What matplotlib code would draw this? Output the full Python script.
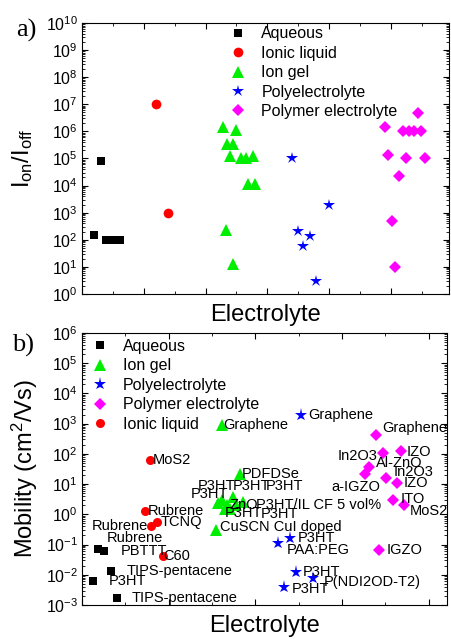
import numpy as np
import matplotlib
matplotlib.use("Agg")
import matplotlib.pyplot as plt
from matplotlib.ticker import LogLocator, MultipleLocator, NullFormatter

plt.rcParams['font.family'] = ['Liberation Sans', 'DejaVu Sans']
plt.rcParams['mathtext.fontset'] = 'custom'
plt.rcParams['mathtext.rm'] = 'Liberation Sans'
plt.rcParams['mathtext.it'] = 'Liberation Sans:italic'
plt.rcParams['mathtext.bf'] = 'Liberation Sans:bold'

# ---- a) on/off ratio ----
a_aq_x = [0.30, 0.20, 0.39, 0.47, 0.54, 0.62]
a_aq_y = [8e4, 150, 100, 100, 100, 100]
a_il_x = [1.19, 1.40]
a_il_y = [1e7, 1e3]
a_gel_x = [2.29, 2.49, 2.34, 2.45, 2.39, 2.57, 2.66, 2.76, 2.69, 2.80, 2.33, 2.44]
a_gel_y = [1.4e6, 1.1e6, 3.4e5, 3.4e5, 1.2e5, 1e5, 1e5, 1.2e5, 1.1e4, 1.1e4, 230, 12.6]
a_pe_x = [3.40, 4.00, 3.49, 3.69, 3.58, 3.79]
a_pe_y = [1e5, 2e3, 210, 140, 60, 3]
a_pol_x = [4.90, 5.44, 5.19, 5.29, 5.38, 5.49, 4.95, 5.25, 5.55, 5.13, 5.02, 5.07]
a_pol_y = [1.4e6, 4.9e6, 1e6, 1e6, 1e6, 1e6, 1.35e5, 1e5, 1e5, 2.3e4, 500, 10]

# ---- b) mobility ----
b_aq_x = [0.19, 0.25, 0.33, 0.13, 0.40]
b_aq_y = [0.069, 0.062, 0.013, 0.0062, 0.0017]
b_aq_names = ["Rubrene", "PBTTT", "TIPS-pentacene", "P3HT", "TIPS-pentacene"]

b_il_x = [0.78, 0.73, 0.80, 0.87, 0.93]
b_il_y = [62, 1.28, 0.41, 0.56, 0.042]
b_il_names = ["MoS2", "Rubrene", "Rubrene", "TCNQ", "C60"]

b_gel_x = [1.61, 1.82, 1.62, 1.746, 1.86, 1.57, 1.67, 1.78, 1.65, 1.71, 1.55]
b_gel_y = [890, 21, 2.95, 3.8, 2.6, 2.3, 2.0, 2.0, 1.5, 1.55, 0.30]
b_gel_names = ["Graphene", "PDFDSe", "P3HT", "P3HT", "P3HT", "P3HT", "ZnO",
               "P3HT/IL CF 5 vol%", "P3HT", "P3HT", "CuSCN CuI doped"]

b_pe_x = [2.53, 2.264, 2.40, 2.465, 2.66, 2.33]
b_pe_y = [1900, 0.114, 0.17, 0.0126, 0.0081, 0.0040]
b_pe_names = ["Graphene", "PAA:PEG", "P3HT", "P3HT", "P(NDI2OD-T2)", "P3HT"]

b_pol_x = [3.39, 3.475, 3.676, 3.31, 3.264, 3.506, 3.63, 3.59, 3.71, 3.43]
b_pol_y = [420, 104, 124, 37, 21.4, 16.2, 10.5, 2.95, 2.0, 0.065]
b_pol_names = ["Graphene", "In2O3", "IZO", "Al-ZnO", "a-IGZO", "In2O3", "IZO",
               "ITO", "MoS2", "IGZO"]

# label placement (pixels from the point, alignment)
b_aq_off = [(8, 11, 'left'), (17, 0, 'left'), (16, 0, 'left'), (15, 0, 'left'), (15, 0, 'left')]
b_il_off = [(3, 0, 'left'), (2, 0, 'left'), (-3, 0, 'right'), (3, 0, 'left'), (1, 0, 'left')]
b_gel_off = [(2, 0, 'left'), (2, 0, 'left'), (-25, 14, 'left'), (-1, 11, 'left'),
             (23, 16, 'left'), (-27, 9, 'left'), (3, 0, 'left'), (20, 0, 'left'),
             (0, -4, 'left'), (31, -5, 'left'), (4, 3, 'left')]
b_pe_off = [(7, 0, 'left'), (8, -7, 'left'), (8, 0, 'left'), (7, 0, 'left'),
            (11, -4, 'left'), (8, -2, 'left')]
b_pol_off = [(6, 7, 'left'), (-6, -3, 'right'), (6, -1, 'left'), (7, 4, 'left'),
             (15, -13, 'right'), (8, 6, 'left'), (7, 0, 'left'), (7, 1, 'left'),
             (6, -6, 'left'), (7, 0, 'left')]

GREEN = '#00ee00'


def style_axis(ax, xmax, ylo, yhi):
    ax.set_yscale('log')
    ax.set_xlim(0, xmax)
    ax.set_ylim(ylo, yhi)
    ax.xaxis.set_major_locator(MultipleLocator(1))
    ax.xaxis.set_minor_locator(MultipleLocator(0.5))
    ax.xaxis.set_major_formatter(NullFormatter())
    ax.yaxis.set_major_locator(LogLocator(base=10, numticks=20))
    ax.yaxis.set_minor_locator(LogLocator(base=10, subs=np.arange(2, 10), numticks=20))
    ax.yaxis.set_minor_formatter(NullFormatter())
    ax.tick_params(which='both', direction='in', top=True, right=True,
                   labelsize=11.5, pad=3)
    ax.tick_params(which='major', length=4)
    ax.tick_params(which='minor', length=2)
    ax.set_xlabel("Electrolyte", fontsize=17, labelpad=4)


def label_points(ax, xs, ys, names, offsets):
    for x, y, name, (dx, dy, ha) in zip(xs, ys, names, offsets):
        ax.annotate(name, (x, y), xytext=(dx, dy), textcoords='offset pixels',
                    ha=ha, va='center', fontsize=10.5)


fig = plt.figure(figsize=(4.51, 6.39), dpi=100)
ax1 = fig.add_axes([0.1818, 0.540, 0.8138, 0.424])
ax2 = fig.add_axes([0.1818, 0.0532, 0.8093, 0.4258])

# a)
ax1.plot(a_aq_x, a_aq_y, 's', color='black', ms=6, mew=0, label="Aqueous")
ax1.plot(a_il_x, a_il_y, 'o', color='red', ms=7, mew=0, label="Ionic liquid")
ax1.plot(a_gel_x, a_gel_y, '^', color=GREEN, ms=8, mew=0, label="Ion gel")
ax1.plot(a_pe_x, a_pe_y, '*', color='blue', ms=9, mew=0, label="Polyelectrolyte")
ax1.plot(a_pol_x, a_pol_y, 'D', color='magenta', ms=6, mew=0, label="Polymer electrolyte")
style_axis(ax1, 5.94, 1, 1e10)
ax1.set_ylabel(r"I$_{\mathrm{on}}$/I$_{\mathrm{off}}$", fontsize=17)
ax1.yaxis.set_label_coords(-0.128, 0.5)
ax1.legend(loc='upper left', bbox_to_anchor=(0.395, 1.0), frameon=False,
           fontsize=11.5, handlelength=1.0, handletextpad=0.95,
           labelspacing=0.28, borderpad=0.2, borderaxespad=0)

# b)
ax2.plot(b_aq_x, b_aq_y, 's', color='black', ms=5.5, mew=0, label="Aqueous")
ax2.plot(b_gel_x, b_gel_y, '^', color=GREEN, ms=8, mew=0, label="Ion gel")
ax2.plot(b_pe_x, b_pe_y, '*', color='blue', ms=9.5, mew=0, label="Polyelectrolyte")
ax2.plot(b_pol_x, b_pol_y, 'D', color='magenta', ms=6, mew=0, label="Polymer electrolyte")
ax2.plot(b_il_x, b_il_y, 'o', color='red', ms=6.5, mew=0, label="Ionic liquid")
style_axis(ax2, 4.21, 1e-3, 1e6)
ax2.set_ylabel(r"Mobility (cm$^{2}$/Vs)", fontsize=17)
ax2.yaxis.set_label_coords(-0.115, 0.5)
ax2.legend(loc='upper left', bbox_to_anchor=(0.018, 0.99), frameon=False,
           fontsize=11.5, handlelength=1.0, handletextpad=0.95,
           labelspacing=0.28, borderpad=0.2, borderaxespad=0)

label_points(ax2, b_aq_x, b_aq_y, b_aq_names, b_aq_off)
label_points(ax2, b_il_x, b_il_y, b_il_names, b_il_off)
label_points(ax2, b_gel_x, b_gel_y, b_gel_names, b_gel_off)
label_points(ax2, b_pe_x, b_pe_y, b_pe_names, b_pe_off)
label_points(ax2, b_pol_x, b_pol_y, b_pol_names, b_pol_off)

fig.text(0.035, 1 - 30 / 639, "a)", fontsize=19, family='Liberation Serif', va='center')
fig.text(0.027, 1 - 345 / 639, "b)", fontsize=19, family='Liberation Serif', va='center')

fig.savefig("out.png", dpi=100)
